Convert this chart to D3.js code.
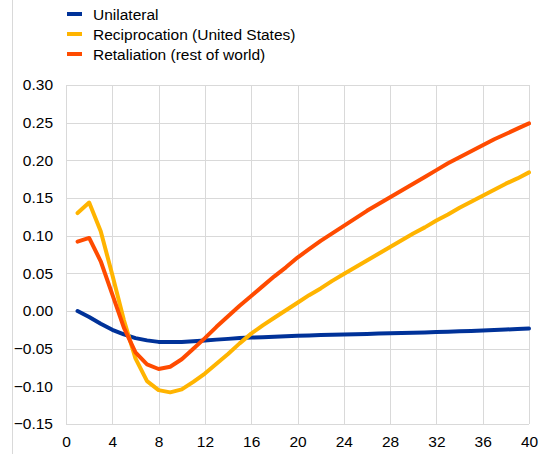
<!DOCTYPE html>
<html>
<head>
<meta charset="utf-8">
<script src="https://cdn.jsdelivr.net/npm/d3@7"></script>
<style>
html,body{margin:0;padding:0;background:#fff;}
svg{display:block;font-family:"Liberation Sans",Arial,sans-serif;}
</style>
</head>
<body>
<svg id="chart" width="539" height="454"></svg>
<script>
const quarters = d3.range(1, 41);
const seriesNames = ["Unilateral", "Reciprocation (United States)", "Retaliation (rest of world)"];
const seriesColors = ["#003299", "#FFB400", "#FF4B00"];
const unilateral = [0.000,-0.008,-0.017,-0.025,-0.031,-0.036,-0.039,-0.041,-0.041,-0.041,
  -0.040,-0.039,-0.038,-0.037,-0.036,-0.0353,-0.0347,-0.0341,-0.0335,-0.0330,
  -0.0325,-0.0320,-0.0316,-0.0312,-0.0308,-0.0304,-0.0300,-0.0296,-0.0292,-0.0288,
  -0.0284,-0.0280,-0.0275,-0.0270,-0.0265,-0.0260,-0.0253,-0.0246,-0.0239,-0.0232];
const reciprocation = [0.130,0.144,0.106,0.048,-0.012,-0.063,-0.093,-0.105,-0.108,-0.104,
  -0.094,-0.083,-0.070,-0.057,-0.043,-0.030,-0.019,-0.009,0.001,0.011,
  0.021,0.030,0.040,0.049,0.058,0.067,0.076,0.085,0.094,0.103,
  0.111,0.120,0.128,0.137,0.145,0.153,0.161,0.169,0.176,0.184];
const retaliation = [0.092,0.097,0.066,0.022,-0.022,-0.055,-0.071,-0.077,-0.074,-0.064,
  -0.050,-0.036,-0.021,-0.007,0.007,0.020,0.033,0.046,0.058,0.071,
  0.082,0.093,0.103,0.113,0.123,0.133,0.142,0.151,0.160,0.169,
  0.178,0.187,0.196,0.204,0.212,0.220,0.228,0.235,0.242,0.249];
const xTicks = [0,4,8,12,16,20,24,28,32,36,40];
const yTicks = [-0.15,-0.10,-0.05,0.00,0.05,0.10,0.15,0.20,0.25,0.30];

const svg = d3.select("#chart");
const x = d3.scaleLinear().domain([0, 40]).range([66, 529]);
const y = d3.scaleLinear().domain([-0.15, 0.30]).range([424, 85]);
const grid = "#d9d9d9";
const font = "Liberation Sans, Arial, sans-serif";

// left border line of the figure
svg.append("line").attr("x1", 12.5).attr("x2", 12.5).attr("y1", 0).attr("y2", 454)
  .attr("stroke", grid).attr("stroke-width", 1);

// horizontal grid
svg.append("g").selectAll("line").data(yTicks).join("line")
  .attr("x1", x(0)).attr("x2", x(40))
  .attr("y1", d => Math.round(y(d)) + 0.5).attr("y2", d => Math.round(y(d)) + 0.5)
  .attr("stroke", grid).attr("stroke-width", 1);
// vertical grid
svg.append("g").selectAll("line").data(xTicks).join("line")
  .attr("x1", d => Math.round(x(d)) + 0.5).attr("x2", d => Math.round(x(d)) + 0.5)
  .attr("y1", y(0.30)).attr("y2", y(-0.15))
  .attr("stroke", grid).attr("stroke-width", 1);

// axes labels
const yAxis = d3.axisLeft(y).tickValues(yTicks).tickFormat(d3.format(".2f")).tickSize(0).tickPadding(13);
const gy = svg.append("g").attr("transform", `translate(${x(0)},0)`).call(yAxis);
gy.select(".domain").remove();
gy.selectAll("text").attr("font-size", 15.5).attr("fill", "#000").attr("font-family", font);

const xAxis = d3.axisBottom(x).tickValues(xTicks).tickFormat(d3.format("d")).tickSize(0).tickPadding(12);
const gx = svg.append("g").attr("transform", `translate(0,${y(-0.15)})`).call(xAxis);
gx.select(".domain").remove();
gx.selectAll("text").attr("font-size", 15.5).attr("fill", "#000").attr("font-family", font);

// lines
const allSeries = [unilateral, reciprocation, retaliation];
const line = d3.line().x((d, i) => x(quarters[i])).y(d => y(d));
[0, 1, 2].forEach(k => {
  svg.append("path").datum(allSeries[k])
    .attr("d", line)
    .attr("fill", "none")
    .attr("stroke", seriesColors[k])
    .attr("stroke-width", 4)
    .attr("stroke-linejoin", "round")
    .attr("stroke-linecap", "round");
});

// legend
const lg = svg.append("g");
seriesNames.forEach((name, i) => {
  const yy = 14 + i * 20;
  lg.append("line").attr("x1", 67).attr("x2", 82).attr("y1", yy).attr("y2", yy)
    .attr("stroke", seriesColors[i]).attr("stroke-width", 4);
  lg.append("text").attr("x", 93).attr("y", yy + 5.5).attr("font-size", 15.5).attr("fill", "#000")
    .attr("font-family", font).text(name);
});
</script>
</body>
</html>
